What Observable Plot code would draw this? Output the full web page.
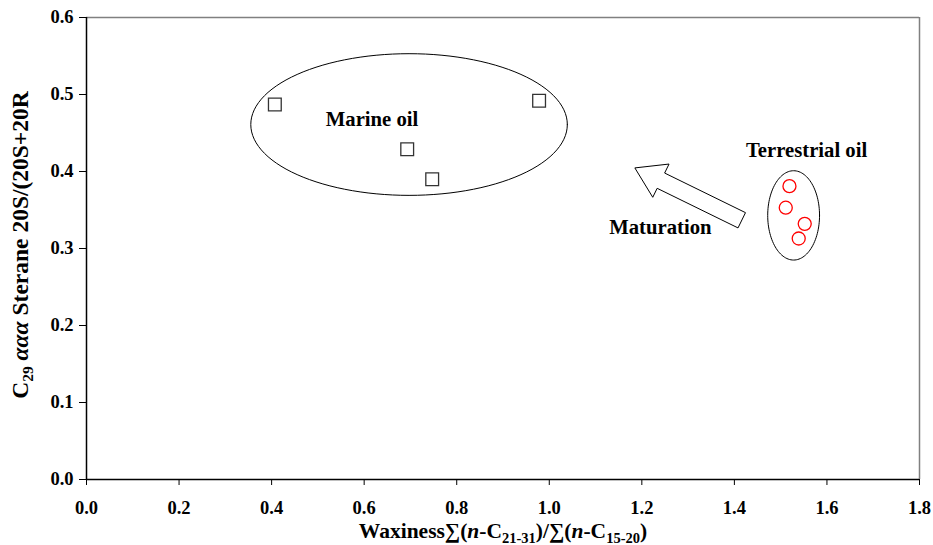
<!DOCTYPE html>
<html>
<head>
<meta charset="utf-8">
<script src="https://cdn.jsdelivr.net/npm/d3@7"></script>
<script src="https://cdn.jsdelivr.net/npm/@observablehq/plot@0.6"></script>
<style>
  html, body { margin: 0; padding: 0; background: #fff; }
</style>
</head>
<body>
<div id="chart"></div>
<script>
// Marine oil samples
const marineX = [0.407, 0.978, 0.693, 0.747];
const marineY = [0.487, 0.492, 0.429, 0.390];
// Terrestrial oil samples
const terrX = [1.519, 1.511, 1.552, 1.539];
const terrY = [0.381, 0.353, 0.332, 0.313];

const xTicks = [0, 0.2, 0.4, 0.6, 0.8, 1.0, 1.2, 1.4, 1.6, 1.8];
const yTicks = [0, 0.1, 0.2, 0.3, 0.4, 0.5, 0.6];

// Group ellipses (center x, center y, radius x, radius y) in data units
const ellipseNames = ["Marine oil", "Terrestrial oil"];
const ellipseCX = [0.697, 1.528];
const ellipseCY = [0.461, 0.343];
const ellipseRX = [0.342, 0.056];
const ellipseRY = [0.092, 0.058];

// Annotation labels
const labelText = ["Marine oil", "Terrestrial oil", "Maturation"];
const labelX = [0.617, 1.556, 1.240];
const labelY = [0.468, 0.428, 0.328];

// Maturation arrow: tail -> tip in data units
const arrowTail = [1.417, 0.336];
const arrowTip = [1.186, 0.404];

const marine = marineX.map((x, i) => ({x, y: marineY[i]}));
const terr = terrX.map((x, i) => ({x, y: terrY[i]}));
const ellipsePts = [];
ellipseNames.forEach((name, k) => {
  for (let i = 0; i <= 120; i++) {
    const t = (i / 120) * 2 * Math.PI;
    ellipsePts.push({g: name, x: ellipseCX[k] + ellipseRX[k] * Math.cos(t), y: ellipseCY[k] + ellipseRY[k] * Math.sin(t)});
  }
});
const labels = labelText.map((t, i) => ({t, x: labelX[i], y: labelY[i]}));

const FONT = '"Liberation Serif"';
const fmt = d3.format(".1f");
const plot = Plot.plot({
  width: 933,
  height: 545,
  marginLeft: 86,
  marginRight: 14,
  marginTop: 17,
  marginBottom: 66,
  style: {background: "#fff"},
  x: {domain: [0, 1.8]},
  y: {domain: [0, 0.6]},
  marks: [
    Plot.ruleY([0.6], {stroke: "#808080", strokeWidth: 1.5}),
    Plot.ruleX([1.8], {stroke: "#808080", strokeWidth: 1.5}),
    Plot.axisX({ticks: xTicks, tickFormat: fmt, tickSize: 6, tickPadding: 15, label: null, fontSize: 18.5, fontWeight: "bold", fill: "#000", stroke: "#000"}),
    Plot.axisY({ticks: yTicks, tickFormat: fmt, tickSize: 7, tickPadding: 6, label: null, fontSize: 18.5, fontWeight: "bold", fill: "#000", stroke: "#000"}),
    Plot.ruleY([0], {stroke: "#000", strokeWidth: 1.5}),
    Plot.ruleX([0], {stroke: "#000", strokeWidth: 1.5}),
    Plot.line(ellipsePts, {x: "x", y: "y", z: "g", stroke: "#000", strokeWidth: 1, curve: "linear"}),
    Plot.dot(marine, {x: "x", y: "y", symbol: "square", r: 7.2, stroke: "#333", strokeWidth: 1.3, fill: "#fff"}),
    Plot.dot(terr, {x: "x", y: "y", symbol: "circle", r: 6.5, stroke: "#f00", strokeWidth: 1.3, fill: "none"}),
    Plot.text(labels, {x: "x", y: "y", text: "t", fontSize: 20.7, fontWeight: "bold", fill: "#000"})
  ]
});

const svg = d3.select(plot);
const sx = plot.scale("x").apply, sy = plot.scale("y").apply;

// Hollow block arrow
{
  const x0 = sx(arrowTail[0]), y0 = sy(arrowTail[1]);
  const x1 = sx(arrowTip[0]), y1 = sy(arrowTip[1]);
  const dx = x1 - x0, dy = y1 - y0, L = Math.hypot(dx, dy);
  const ux = dx / L, uy = dy / L, nx = -uy, ny = ux;
  const sw = 8.5, hw = 18.5, hl = 29;
  const bx = x1 - ux * hl, by = y1 - uy * hl;
  const pts = [
    [x0 + nx * sw, y0 + ny * sw],
    [bx + nx * sw, by + ny * sw],
    [bx + nx * hw, by + ny * hw],
    [x1, y1],
    [bx - nx * hw, by - ny * hw],
    [bx - nx * sw, by - ny * sw],
    [x0 - nx * sw, y0 - ny * sw]
  ];
  svg.append("polygon").attr("points", pts.map(p => p.join(",")).join(" "))
    .attr("fill", "#fff").attr("stroke", "#000").attr("stroke-width", 1);
  svg.selectAll("g[aria-label='text']").raise();
}

// X axis title
{
  const t = svg.append("text").attr("x", 503).attr("y", 538).attr("text-anchor", "middle")
    .attr("font-size", 21.5).attr("font-weight", "bold").attr("fill", "#000");
  t.append("tspan").text("Waxiness\u2211(");
  t.append("tspan").attr("font-style", "italic").text("n");
  t.append("tspan").text("-C");
  t.append("tspan").attr("font-size", 14.5).attr("dy", 5).text("21-31");
  t.append("tspan").attr("dy", -5).text(")/\u2211(");
  t.append("tspan").attr("font-style", "italic").text("n");
  t.append("tspan").text("-C");
  t.append("tspan").attr("font-size", 14.5).attr("dy", 5).text("15-20");
  t.append("tspan").attr("dy", -5).text(")");
}
// Y axis title
{
  const t = svg.append("text").attr("transform", "translate(28,245) rotate(-90)").attr("text-anchor", "middle")
    .attr("font-size", 23.5).attr("font-weight", "bold").attr("fill", "#000");
  t.append("tspan").text("C");
  t.append("tspan").attr("font-size", 15.5).attr("dy", 5).text("29");
  t.append("tspan").attr("dy", -5).attr("font-style", "italic").text(" \u03B1\u03B1\u03B1");
  t.append("tspan").text(" Sterane 20S/(20S+20R");
}

svg.style("font-family", FONT);
svg.selectAll("g").style("font-family", FONT);
svg.selectAll("text").style("font-family", FONT).style("font-variant", "normal");

document.getElementById("chart").appendChild(plot);
</script>
</body>
</html>
